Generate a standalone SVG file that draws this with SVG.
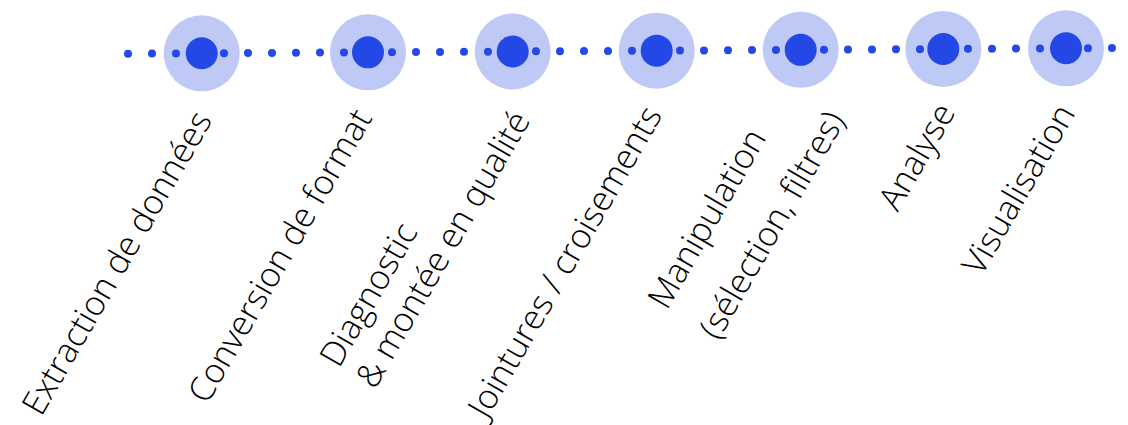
<svg xmlns="http://www.w3.org/2000/svg" width="1128" height="425" viewBox="0 0 1128 425">
<style>
.halo{fill:#bfc9f6}
.core{fill:#2348e5}
.dots{fill:none;stroke:#2348e5;stroke-width:8;stroke-linecap:round;stroke-dasharray:0 24}
.lbl{font-family:"Open Sans",Lato,sans-serif;font-size:34px;font-weight:300;fill:#000}
</style>
<rect width="1128" height="425" fill="#fff"/>
<g id="halos">
<circle class="halo" cx="201.7" cy="53.3" r="38"/>
<circle class="halo" cx="368" cy="52.34" r="38"/>
<circle class="halo" cx="512.7" cy="51.5" r="38"/>
<circle class="halo" cx="656.7" cy="50.67" r="38"/>
<circle class="halo" cx="800.7" cy="49.83" r="38"/>
<circle class="halo" cx="943.3" cy="49.01" r="38"/>
<circle class="halo" cx="1066" cy="48.3" r="38"/>
</g>
<g id="connectors">
<path class="dots" d="M128 53.73 L1112 48.03"/>
</g>
<g id="n1"><circle class="core" cx="201.7" cy="53.3" r="16"/>
<text class="lbl" text-anchor="end" transform="translate(213 120) rotate(-60)">Extraction de données</text></g>
<g id="n2"><circle class="core" cx="368" cy="52.34" r="16"/>
<text class="lbl" text-anchor="end" transform="translate(373 118) rotate(-60)">Conversion de format</text></g>
<g id="n3"><circle class="core" cx="512.7" cy="51.5" r="16"/>
<text class="lbl" transform="translate(339 369) rotate(-60)">Diagnostic</text>
<text class="lbl" text-anchor="end" transform="translate(531 120) rotate(-60)">&amp; montée en qualité</text></g>
<g id="n4"><circle class="core" cx="656.7" cy="50.67" r="16"/>
<text class="lbl" text-anchor="end" transform="translate(663 115) rotate(-60)">Jointures / croisements</text></g>
<g id="n5"><circle class="core" cx="800.7" cy="49.83" r="16"/>
<text class="lbl" transform="translate(667 311) rotate(-60)">Manipulation</text>
<text class="lbl" text-anchor="end" transform="translate(846 120) rotate(-60)">(sélection, filtres)</text></g>
<g id="n6"><circle class="core" cx="943.3" cy="49.01" r="16"/>
<text class="lbl" text-anchor="end" transform="translate(956 112) rotate(-60)">Analyse</text></g>
<g id="n7"><circle class="core" cx="1066" cy="48.3" r="16"/>
<text class="lbl" text-anchor="end" transform="translate(1076 113) rotate(-60)">Visualisation</text></g>
</svg>
